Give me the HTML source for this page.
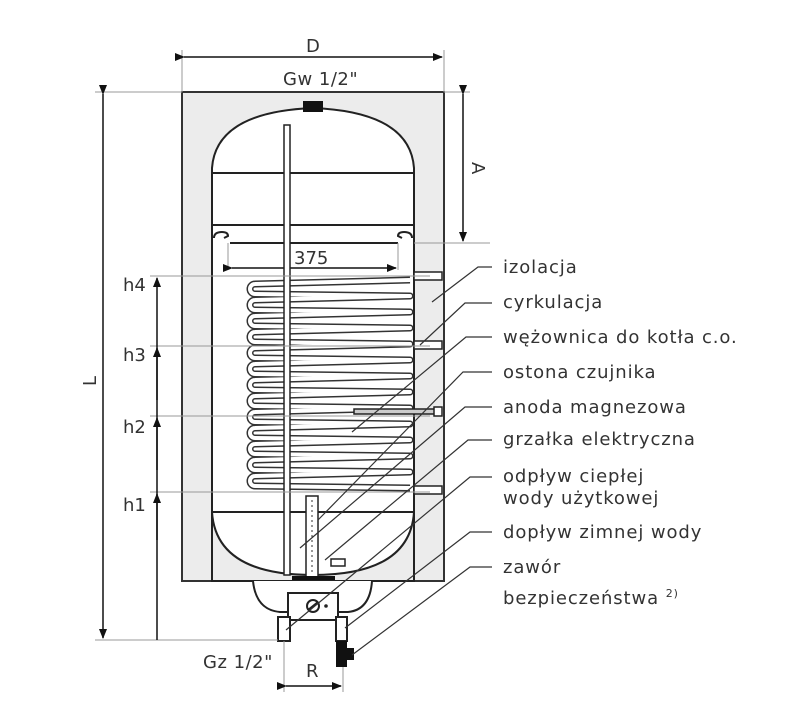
<!DOCTYPE html>
<html><head><meta charset="utf-8"><style>
body{margin:0;background:#fff;}
svg text{font-family:"DejaVu Sans","Liberation Sans",sans-serif;fill:#333;}
</style></head><body>
<svg width="811" height="703" viewBox="0 0 811 703" xmlns="http://www.w3.org/2000/svg">
<defs>
<marker id="ar" markerWidth="10" markerHeight="8" refX="9" refY="4" orient="auto" markerUnits="userSpaceOnUse"><path d="M0,0L10,4L0,8z" fill="#111"/></marker>
<path id="coil" d="M410,280 L255,284 a5,5 0 0 0 0,10 L410,296 L255,300 a5,5 0 0 0 0,10 L410,312 L255,316 a5,5 0 0 0 0,10 L410,328 L255,332 a5,5 0 0 0 0,10 L410,344 L255,348 a5,5 0 0 0 0,10 L410,360 L255,364 a5,5 0 0 0 0,10 L410,376 L255,380 a5,5 0 0 0 0,10 L410,392 L255,396 a5,5 0 0 0 0,10 L410,408 L255,412 a5,5 0 0 0 0,10 L410,424 L255,428 a5,5 0 0 0 0,10 L410,440 L255,444 a5,5 0 0 0 0,10 L410,456 L255,460 a5,5 0 0 0 0,10 L410,472 L255,476 a5,5 0 0 0 0,10 L410,488"/>
</defs>
<rect x="182" y="92" width="262" height="489" fill="#ececec" stroke="#333" stroke-width="2"/>
<path d="M212,581 L212,168 Q216,112 313,108 Q410,112 414,168 L414,581 Z" fill="#fff" stroke="#222" stroke-width="2"/>
<rect x="213" y="513" width="200" height="67" fill="#ececec"/>
<path d="M212,512 Q216,575 313,575 Q410,575 414,512" fill="#fff" stroke="#222" stroke-width="2"/>
<line x1="212" y1="512" x2="414" y2="512" stroke="#222" stroke-width="2"/>
<line x1="212" y1="173" x2="414" y2="173" stroke="#222" stroke-width="2"/>
<line x1="212" y1="225" x2="414" y2="225" stroke="#222" stroke-width="2"/>
<line x1="230" y1="243" x2="398" y2="243" stroke="#222" stroke-width="2"/>
<path d="M214,238 q0,-6 8,-6 q6,0 6,4 l-4,2 M412,238 q0,-6 -8,-6 q-6,0 -6,4 l4,2" fill="none" stroke="#222" stroke-width="2"/>
<rect x="303" y="101" width="20" height="11" fill="#111"/>
<line x1="228" y1="243" x2="228" y2="270" stroke="#999"/>
<line x1="398" y1="243" x2="398" y2="270" stroke="#999"/>
<line x1="232" y1="268" x2="396" y2="268" stroke="#111" stroke-width="1.5" marker-start="url(#ar)" marker-end="url(#ar)"/>
<text x="294" y="264" font-size="18">375</text>
<g fill="none" stroke-linejoin="round">
<use href="#coil" stroke="#333" stroke-width="7"/>
<use href="#coil" stroke="#fff" stroke-width="4"/>
</g>
<rect x="284" y="125" width="6" height="450" fill="#fff" stroke="#222" stroke-width="1.5"/>
<rect x="306" y="496" width="12" height="82" fill="#fff" stroke="#222" stroke-width="1.5"/>
<line x1="312" y1="500" x2="312" y2="575" stroke="#333" stroke-dasharray="2,3"/>
<rect x="331" y="559" width="14" height="7" fill="#fff" stroke="#222" stroke-width="1.5"/>
<line x1="292" y1="578" x2="335" y2="578" stroke="#111" stroke-width="4"/>
<g stroke="#222" stroke-width="1.5" fill="#fff">
<rect x="414" y="272" width="28" height="8"/><rect x="414" y="341" width="28" height="8"/>
<rect x="414" y="486" width="28" height="8"/>
<rect x="354" y="409" width="86" height="5" fill="#ccc"/><rect x="434" y="407" width="8" height="9"/>
</g>
<path d="M253,581 Q256,610 280,612 L348,612 Q370,610 372,581" fill="#fff" stroke="#222" stroke-width="2"/>
<rect x="288" y="593" width="50" height="27" fill="#fff" stroke="#222" stroke-width="2"/>
<circle cx="313" cy="606" r="6" fill="#fff" stroke="#222" stroke-width="2"/><line x1="308" y1="610" x2="318" y2="602" stroke="#222" stroke-width="2"/>
<circle cx="326" cy="606" r="1.8" fill="#222"/>
<rect x="278" y="617" width="12" height="24" fill="#fff" stroke="#222" stroke-width="2"/>
<rect x="336" y="617" width="11" height="24" fill="#fff" stroke="#222" stroke-width="2"/>
<rect x="336" y="641" width="11" height="26" fill="#111"/><rect x="345" y="648" width="9" height="12" fill="#111"/>
<g stroke="#999" stroke-width="1">
<line x1="182" y1="50" x2="182" y2="92"/><line x1="444" y1="50" x2="444" y2="92"/>
<line x1="95" y1="92" x2="182" y2="92"/><line x1="444" y1="92" x2="470" y2="92"/>
<line x1="414" y1="243" x2="490" y2="243"/>
<line x1="150" y1="276" x2="430" y2="276"/><line x1="150" y1="346" x2="430" y2="346"/>
<line x1="150" y1="416" x2="430" y2="416"/><line x1="150" y1="492" x2="430" y2="492"/>
<line x1="95" y1="640" x2="278" y2="640"/>
<line x1="284" y1="641" x2="284" y2="692"/><line x1="343" y1="667" x2="343" y2="692"/>
</g>
<g stroke="#111" stroke-width="1.5">
<line x1="184" y1="57" x2="442" y2="57" marker-start="url(#ar)" marker-end="url(#ar)"/>
<line x1="463" y1="94" x2="463" y2="241" marker-start="url(#ar)" marker-end="url(#ar)"/>
<line x1="103" y1="94" x2="103" y2="638" marker-start="url(#ar)" marker-end="url(#ar)"/>
<line x1="157" y1="640" x2="157" y2="278" marker-end="url(#ar)"/>
<line x1="157" y1="400" x2="157" y2="348" marker-end="url(#ar)"/>
<line x1="157" y1="470" x2="157" y2="418" marker-end="url(#ar)"/>
<line x1="157" y1="540" x2="157" y2="494" marker-end="url(#ar)"/>
<line x1="286" y1="686" x2="341" y2="686" marker-start="url(#ar)" marker-end="url(#ar)"/>
</g>
<g font-size="18">
<text x="306" y="52">D</text>
<text x="283" y="85" letter-spacing="0.5">Gw 1/2"</text>
<text x="0" y="0" transform="translate(472,162) rotate(90)">A</text>
<text x="0" y="0" transform="translate(96,386) rotate(-90)">L</text>
<text x="123" y="291">h4</text>
<text x="123" y="361">h3</text>
<text x="123" y="433">h2</text>
<text x="123" y="511">h1</text>
<text x="203" y="668" letter-spacing="0.5">Gz 1/2"</text>
<text x="306" y="677">R</text>
</g>
<g stroke="#333" stroke-width="1.2" fill="none">
<polyline points="492,267 478,267 432,302"/>
<polyline points="492,303 465,303 420,345"/>
<polyline points="492,337 466,337 352,432"/>
<polyline points="492,372 463,372 318,520"/>
<polyline points="492,407 465,407 300,548"/>
<polyline points="492,440 468,440 325,560"/>
<polyline points="492,477 470,477 286,630"/>
<polyline points="492,532 470,532 345,628"/>
<polyline points="492,567 470,567 352,655"/>
</g>
<g font-size="18" letter-spacing="0.9">
<text x="503" y="273">izolacja</text>
<text x="503" y="308">cyrkulacja</text>
<text x="503" y="343">wężownica do kotła c.o.</text>
<text x="503" y="378">ostona czujnika</text>
<text x="503" y="413">anoda magnezowa</text>
<text x="503" y="445">grzałka elektryczna</text>
<text x="503" y="482">odpływ ciepłej</text>
<text x="503" y="504">wody użytkowej</text>
<text x="503" y="538">dopływ zimnej wody</text>
<text x="503" y="573">zawór</text>
<text x="503" y="604">bezpieczeństwa <tspan font-size="11" dy="-7">2)</tspan></text>
</g>
</svg>
</body></html>
